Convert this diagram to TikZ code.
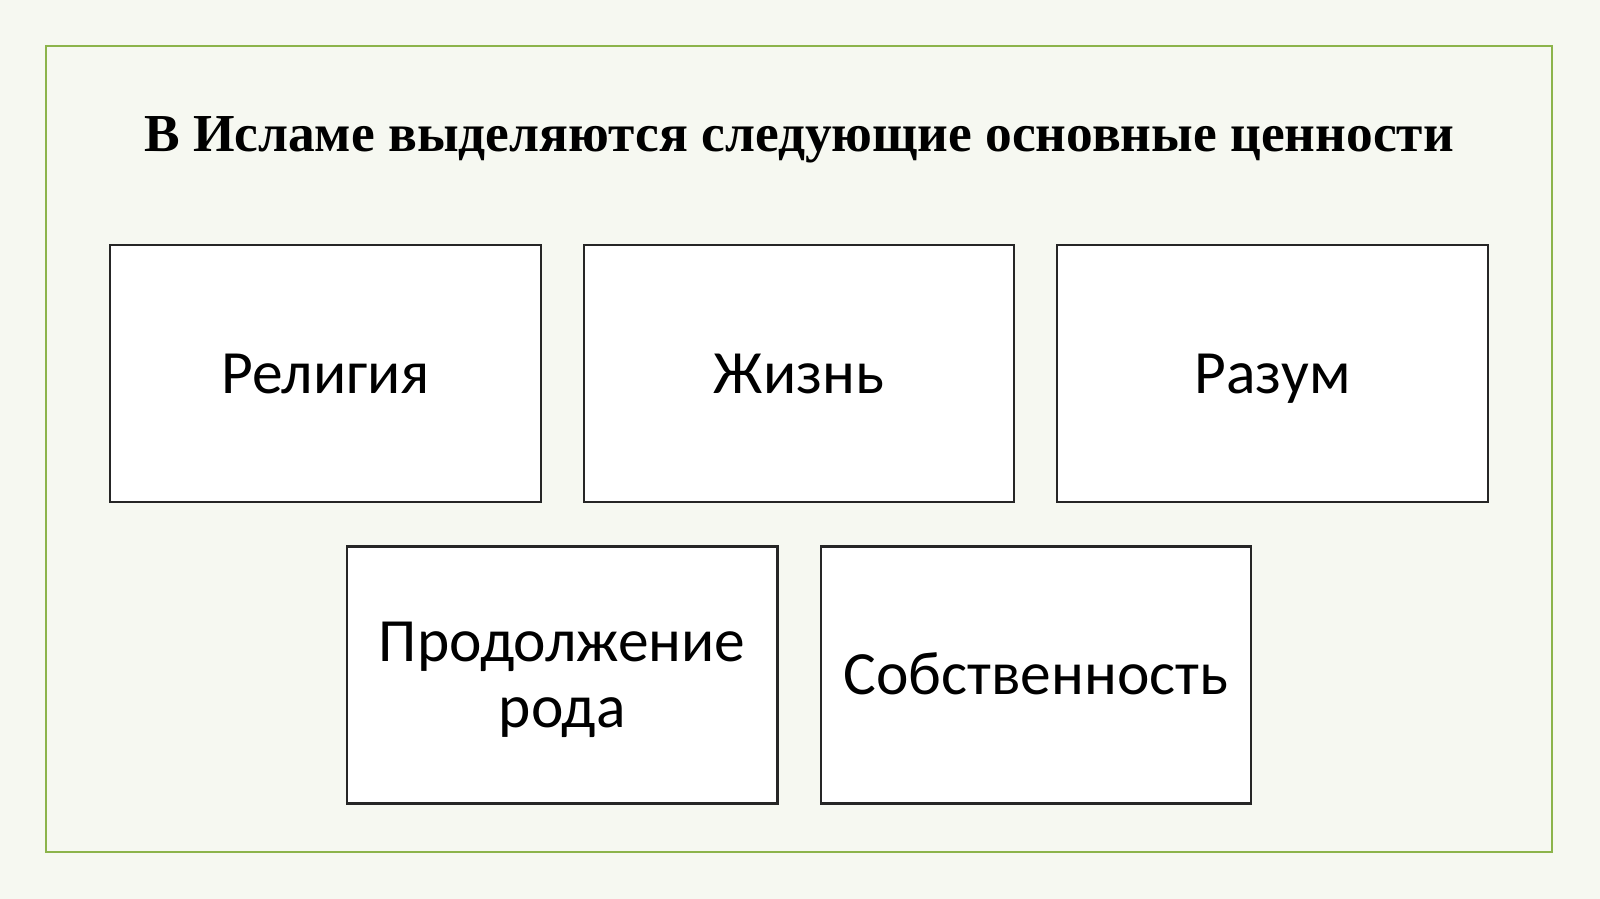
\documentclass[tikz,border=0pt]{standalone}
\usepackage{fontspec}
\setmainfont{Liberation Serif}
\newfontfamily\boxfont{Carlito}
\usetikzlibrary{positioning}
\definecolor{slidebg}{RGB}{246,248,241}
\definecolor{framegreen}{RGB}{140,180,75}
\begin{document}
\begin{tikzpicture}[x=0.010204cm,y=-0.010204cm]
\tikzset{
value node/.style={draw=black!85,line width=0.6pt,fill=white,minimum width=4.306cm,minimum height=2.571cm,
  inner sep=0pt,align=center,text depth=0pt,font=\boxfont\fontsize{17.5}{18.9}\selectfont},
one line/.style={text height=11.2pt},
title node/.style={font=\bfseries\fontsize{15.2}{18}\selectfont}
}
\fill[slidebg] (0,0) rectangle (1568,881);
\useasboundingbox (0,0) rectangle (1568,881);
\draw[framegreen,line width=0.7pt] (45,45) rectangle (1521,835);

\node(title)[title node] at (783,137) {В Исламе выделяются следующие основные ценности};

\node(religion)[value node,one line] at (319,366) {Религия};
\node(life)[value node,one line,right=0.41cm of religion] {Жизнь};
\node(mind)[value node,one line,right=0.41cm of life] {Разум};
\node(lineage)[value node] at (551,661.5) {Продолжение\\рода};
\node(property)[value node,one line,right=0.41cm of lineage] {Собственность};
\end{tikzpicture}
\end{document}
